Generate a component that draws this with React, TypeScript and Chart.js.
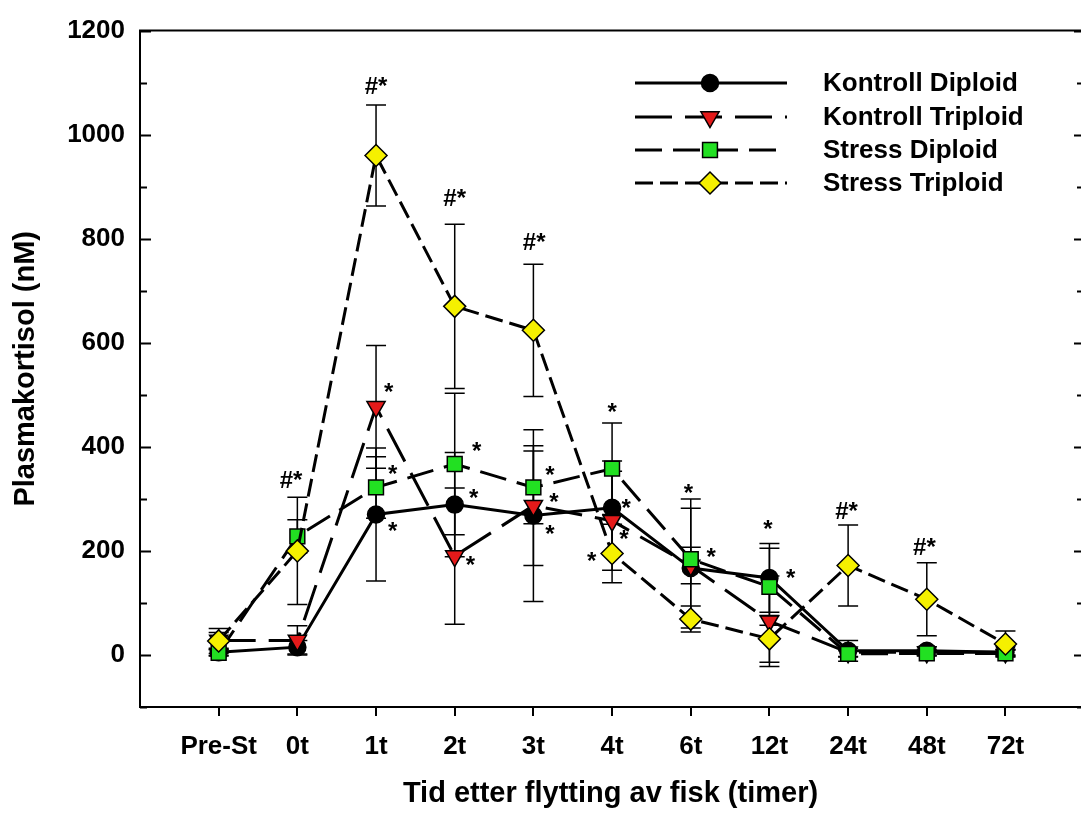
import React, { useEffect, useRef } from 'react';
import { Chart, registerables } from 'chart.js';

Chart.register(...registerables);

// ---------- data ----------
const categories = ['Pre-St', '0t', '1t', '2t', '3t', '4t', '6t', '12t', '24t', '48t', '72t'];

const kontrollDiploidMean = [5, 15, 270, 289, 268, 283, 167, 148, 8, 8, 5];
const kontrollDiploidErr = [6, 13, 128, 100, 165, 90, 115, 66, 20, 8, 6];

const kontrollTriploidMean = [28, 28, 477, 190, 287, 258, 172, 65, 5, 5, 5];
const kontrollTriploidErr = [15, 28, 118, 131, 115, 95, 35, 87, 8, 6, 5];

const stressDiploidMean = [4, 228, 322, 367, 322, 358, 184, 131, 2, 3, 3];
const stressDiploidErr = [6, 32, 59, 136, 70, 88, 116, 74, 6, 5, 6];

const stressTriploidMean = [27, 200, 960, 670, 624, 195, 69, 31, 172, 107, 21];
const stressTriploidErr = [24, 103, 97, 158, 127, 56, 25, 45, 78, 70, 25];

const yTickValues = [0, 200, 400, 600, 800, 1000, 1200];
const yMinorValues = [-100, 100, 300, 500, 700, 900, 1100];

// significance marks (x in category index units, y in nM)
const sigX = [0.92, 2.0, 2.16, 2.21, 2.21, 3.0, 3.28, 3.24, 3.2, 4.01, 4.21, 4.26, 4.21, 5.0, 5.18, 5.15, 4.74, 5.97, 6.26, 6.98, 7.27, 7.98, 8.97];
const sigY = [333, 1091, 514, 356, 247, 875, 400, 310, 182, 791, 354, 302, 241, 476, 291, 232, 190, 320, 197, 251, 157, 275, 205];
const sigText = ['#*', '#*', '*', '*', '*', '#*', '*', '*', '*', '#*', '*', '*', '*', '*', '*', '*', '*', '*', '*', '*', '*', '#*', '#*'];

// ---------- styles ----------
const FONT = '"Liberation Sans", Arial, Helvetica, sans-serif';

type SeriesDef = {
  label: string;
  mean: number[];
  err: number[];
  fill: string;
  pointStyle: string;
  radius: number;
  rotation: number;
  dash: number[];
  order: number;
};

const series: SeriesDef[] = [
  { label: 'Kontroll Diploid', mean: kontrollDiploidMean, err: kontrollDiploidErr, fill: '#000000', pointStyle: 'circle', radius: 8.5, rotation: 0, dash: [], order: 4 },
  { label: 'Kontroll Triploid', mean: kontrollTriploidMean, err: kontrollTriploidErr, fill: '#e41a1a', pointStyle: 'triangle', radius: 10.5, rotation: 180, dash: [37, 13], order: 3 },
  { label: 'Stress Diploid', mean: stressDiploidMean, err: stressDiploidErr, fill: '#22e022', pointStyle: 'rect', radius: 10.5, rotation: 0, dash: [27, 11], order: 2 },
  { label: 'Stress Triploid', mean: stressTriploidMean, err: stressTriploidErr, fill: '#f5f000', pointStyle: 'rectRot', radius: 11, rotation: 0, dash: [18, 7], order: 1 },
];

function drawMarker(ctx: CanvasRenderingContext2D, s: SeriesDef, x: number, y: number) {
  const r = s.radius;
  ctx.beginPath();
  if (s.pointStyle === 'circle') {
    ctx.arc(x, y, r, 0, Math.PI * 2);
  } else if (s.pointStyle === 'triangle') {
    let rad = (s.rotation * Math.PI) / 180;
    ctx.moveTo(x + Math.sin(rad) * r, y - Math.cos(rad) * r);
    rad += (2 * Math.PI) / 3;
    ctx.lineTo(x + Math.sin(rad) * r, y - Math.cos(rad) * r);
    rad += (2 * Math.PI) / 3;
    ctx.lineTo(x + Math.sin(rad) * r, y - Math.cos(rad) * r);
    ctx.closePath();
  } else if (s.pointStyle === 'rect') {
    const h = Math.SQRT1_2 * r;
    ctx.rect(x - h, y - h, 2 * h, 2 * h);
  } else {
    ctx.moveTo(x - r, y);
    ctx.lineTo(x, y - r);
    ctx.lineTo(x + r, y);
    ctx.lineTo(x, y + r);
    ctx.closePath();
  }
  ctx.fillStyle = s.fill;
  ctx.fill();
  ctx.lineWidth = 1.5;
  ctx.strokeStyle = '#000';
  ctx.setLineDash([]);
  ctx.stroke();
}

const decorPlugin = {
  id: 'decor',
  beforeDatasetsDraw(chart: any) {
    const { ctx } = chart;
    const x = chart.scales.x;
    const y = chart.scales.y;
    ctx.save();
    ctx.strokeStyle = '#000';
    ctx.lineWidth = 1.5;
    ctx.setLineDash([]);
    series.forEach((s) => {
      s.mean.forEach((m, i) => {
        const e = s.err[i];
        const px = x.getPixelForValue(i);
        const top = y.getPixelForValue(m + e);
        const bot = y.getPixelForValue(m - e);
        ctx.beginPath();
        ctx.moveTo(px, top);
        ctx.lineTo(px, bot);
        ctx.moveTo(px - 10, top);
        ctx.lineTo(px + 10, top);
        ctx.moveTo(px - 10, bot);
        ctx.lineTo(px + 10, bot);
        ctx.stroke();
      });
    });
    ctx.restore();
  },
  afterDraw(chart: any) {
    const { ctx, chartArea } = chart;
    const x = chart.scales.x;
    const y = chart.scales.y;
    ctx.save();
    ctx.strokeStyle = '#000';
    ctx.setLineDash([]);
    // top frame line
    ctx.lineWidth = 2;
    ctx.beginPath();
    ctx.moveTo(chartArea.left - 1, chartArea.top);
    ctx.lineTo(chartArea.right, chartArea.top);
    ctx.stroke();
    // inward ticks on left and right
    ctx.lineWidth = 1.8;
    const drawTicks = (vals: number[], lenL: number, lenR: number) => {
      vals.forEach((v) => {
        const py = Math.round(y.getPixelForValue(v)) + 0.5;
        ctx.beginPath();
        ctx.moveTo(chartArea.left, py);
        ctx.lineTo(chartArea.left + lenL, py);
        ctx.moveTo(chartArea.right, py);
        ctx.lineTo(chartArea.right - lenR, py);
        ctx.stroke();
      });
    };
    drawTicks(yTickValues, 11, 7);
    drawTicks(yMinorValues, 7, 4);

    // significance marks
    ctx.fillStyle = '#000';
    ctx.font = `bold 24px ${FONT}`;
    ctx.textAlign = 'center';
    ctx.textBaseline = 'middle';
    sigText.forEach((t, i) => {
      const px = x.getPixelForValue(sigX[i]);
      const py = y.getPixelForValue(sigY[i]) + (t === '*' ? 6 : 0);
      ctx.fillText(t, px, py);
    });

    // legend
    const rowY = [83, 117, 150, 183];
    const lineX0 = 635;
    const lineX1 = 787;
    const markX = 710;
    series.forEach((s, i) => {
      const ry = rowY[i];
      ctx.beginPath();
      ctx.lineWidth = 3;
      ctx.strokeStyle = '#000';
      ctx.setLineDash(s.dash);
      ctx.moveTo(lineX0, ry);
      ctx.lineTo(lineX1, ry);
      ctx.stroke();
      drawMarker(ctx, s, markX, ry);
      ctx.fillStyle = '#000';
      ctx.font = `bold 26px ${FONT}`;
      ctx.textAlign = 'left';
      ctx.textBaseline = 'middle';
      ctx.fillText(s.label, 823, ry + 1);
    });
    ctx.restore();
  },
};

export default function App() {
  const canvasRef = useRef<HTMLCanvasElement | null>(null);

  useEffect(() => {
    if (!canvasRef.current) return;
    const datasets = series.map((s) => ({
      label: s.label,
      data: s.mean.map((v, i) => ({ x: i, y: v })),
      borderColor: '#000',
      borderWidth: 3,
      borderDash: s.dash,
      borderCapStyle: 'butt' as const,
      fill: false,
      tension: 0,
      pointStyle: s.pointStyle as any,
      pointRadius: s.radius,
      pointHoverRadius: s.radius,
      pointRotation: s.rotation,
      pointBackgroundColor: s.fill,
      pointBorderColor: '#000',
      pointBorderWidth: 1.5,
      order: s.order,
    }));

    const tickFont = { family: FONT, size: 26, weight: 'bold' as const };
    const titleFont = { family: FONT, size: 29, weight: 'bold' as const };

    const chart = new Chart(canvasRef.current, {
      type: 'line',
      data: { datasets },
      options: {
        responsive: false,
        animation: false,
        layout: { autoPadding: false, padding: { top: 26, left: 0, right: 0, bottom: 0 } },
        plugins: { legend: { display: false }, tooltip: { enabled: false } },
        scales: {
          x: {
            type: 'linear',
            min: -1,
            max: 10.96,
            position: 'bottom',
            afterBuildTicks: (s: any) => {
              s.ticks = categories.map((_, i) => ({ value: i }));
            },
            afterFit: (s: any) => {
              s.height = 112;
              s.paddingLeft = 0;
              s.paddingRight = 0;
            },
            grid: { drawOnChartArea: false, drawTicks: true, tickLength: 9, color: '#000', lineWidth: 2 },
            border: { display: true, color: '#000', width: 2 },
            ticks: {
              callback: (v: any) => categories[v] ?? '',
              font: tickFont,
              color: '#000',
              padding: 15,
              autoSkip: false,
              maxRotation: 0,
            },
            title: {
              display: true,
              text: 'Tid etter flytting av fisk (timer)',
              font: titleFont,
              color: '#000',
              padding: { top: 0, bottom: 8 },
            },
          },
          y: {
            type: 'linear',
            min: -100,
            max: 1200,
            afterBuildTicks: (s: any) => {
              s.ticks = yTickValues.map((v) => ({ value: v }));
            },
            afterFit: (s: any) => {
              s.width = 140;
            },
            grid: { display: false, drawTicks: false },
            border: { display: true, color: '#000', width: 2 },
            ticks: { font: tickFont, color: '#000', padding: 15, callback: (v: any) => String(v) },
            title: {
              display: true,
              text: 'Plasmakortisol (nM)',
              font: titleFont,
              color: '#000',
              padding: { top: 9, bottom: 0 },
            },
          },
        },
      },
      plugins: [decorPlugin],
    });
    return () => chart.destroy();
  }, []);

  return (
    <div style={{ position: 'absolute', left: 0, top: 0, width: 1081, height: 819, background: '#fff' }}>
      <canvas ref={canvasRef} width={1081} height={819} style={{ display: 'block' }} />
    </div>
  );
}
